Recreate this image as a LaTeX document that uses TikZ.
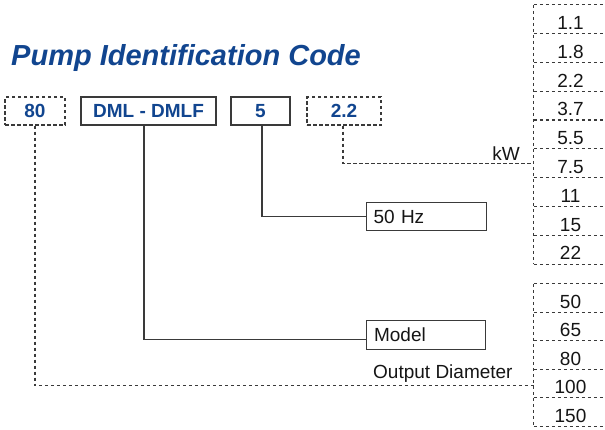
\documentclass[tikz,border=0pt]{standalone}
\usepackage{fontspec}
\setmainfont{Liberation Sans}
\definecolor{codeblue}{HTML}{11458F}
\definecolor{linegray}{HTML}{3A3A3A}
\definecolor{txtgray}{HTML}{151515}
\tikzset{
  solidline/.style={draw=linegray, line width=1.1pt},
  dashline/.style={draw=linegray, line width=1.1pt, dash pattern=on 3.5pt off 2.5pt},
  codebox/.style={font=\fontsize{19}{19}\selectfont\bfseries, text=codeblue, inner sep=0pt,
     minimum height=28pt, text height=13.6pt, text depth=0pt},
  solidbox/.style={codebox, solidline},
  dashbox/.style={codebox, dashline},
  labelbox/.style={solidline, font=\fontsize{19}{19}\selectfont, text=txtgray, anchor=west,
     inner ysep=0pt, inner xsep=7pt, align=left, minimum height=28.5pt, text height=13.6pt, text depth=0pt},
  item/.style={font=\fontsize{19}{19}\selectfont, text=txtgray, inner sep=0pt,
     minimum width=73pt, text height=20pt, text depth=0pt},
  plain/.style={font=\fontsize{19}{19}\selectfont, text=txtgray, inner sep=0pt},
}
\begin{document}
\begin{tikzpicture}[x=1pt,y=-1pt]
\useasboundingbox (0,0) rectangle (605,429);
% title
\node[anchor=base west, inner sep=0pt, text=codeblue,
      font=\fontsize{29}{29}\selectfont\bfseries\itshape] (title) at (11,65) {Pump Identification Code};
% code boxes
\node[dashbox, minimum width=60pt] (b80) at (35,111) {80};
\node[solidbox, minimum width=135pt] (dml) at (148.5,111) {DML - DMLF};
\node[solidbox, minimum width=59pt] (five) at (260.5,111) {5};
\node[dashbox, minimum width=74pt] (kwbox) at (344,111) {2.2};
% description boxes
\node[labelbox, text width=106pt] (hz) at (366,216.5) {50 Hz};
\node[labelbox, text width=104pt, inner xsep=7.5pt] (model) at (366,335) {Model};
% labels
\node[plain, anchor=base east] (kwlabel) at (520,160.7) {kW};
\node[plain, anchor=base west] (odlabel) at (373,378) {Output Diameter};
% power list
\foreach \t [count=\i] in {1.1,1.8,2.2,3.7,5.5,7.5,11,15,22}
  \node[item, minimum height=28.8pt] (p\i) at (570.5,{5+28.8*\i-14.4}) {\t};
\draw[dashline] (p1.north west) -- (p9.south west);
\foreach \i in {1,...,9}
  \draw[dashline] (p\i.north west) -- ++(76,0);
\draw[dashline] (p9.south west) -- ++(76,0);
% diameter list
\foreach \t [count=\i] in {50,65,80,100,150}
  \node[item, minimum height=28.5pt] (d\i) at (570.5,{284+28.5*\i-14.25}) {\t};
\draw[dashline] (d1.north west) -- (d5.south west);
\foreach \i in {1,...,5}
  \draw[dashline] (d\i.north west) -- ++(76,0);
\draw[dashline] (d5.south west) -- ++(76,0);
% connectors
\draw[dashline] (b80.south) |- ([yshift=-2pt]d4.west);
\draw[solidline] ([xshift=-4.5pt]dml.south) |- ([yshift=-4.5pt]model.west);
\draw[solidline] ([xshift=1.5pt]five.south) |- (hz.west);
\draw[dashline] ([xshift=-1pt]kwbox.south) |- (p6.west);
\end{tikzpicture}
\end{document}
